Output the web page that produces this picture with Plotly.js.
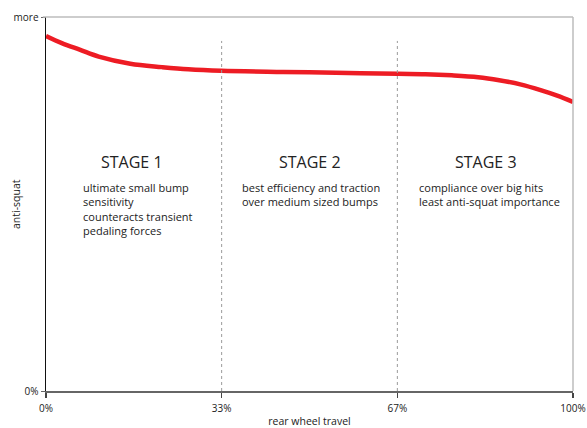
<!DOCTYPE html>
<html>
<head>
<meta charset="utf-8">
<script src="https://cdn.plot.ly/plotly-3.0.1.min.js"></script>
<style>html,body{margin:0;padding:0;background:#fff;}#chart{width:587px;height:428px;}</style>
</head>
<body>
<div id="chart"></div>
<script>
// Data
const travel = [0, 3, 6.5, 10, 16, 22, 27, 33.3, 45, 55, 66.7, 72, 77, 82, 86, 90, 94, 97, 100];
const antiSquat = [94.9, 93.0, 91.2, 89.4, 87.5, 86.6, 86.0, 85.6, 85.3, 85.1, 84.8, 84.7, 84.4, 83.9, 83.1, 82.0, 80.4, 79.0, 77.3];
const xTickVals = [0, 33.33, 66.67, 100];
const xTickText = ['0%', '33%', '67%', '100%'];
const yTickVals = [0, 100];
const yTickText = ['0%', 'more'];
const stageX = [33.33, 66.67];
const stageTitles = ['STAGE 1', 'STAGE 2', 'STAGE 3'];
const stageCenters = [16.4, 50, 83.5];
const stageTextX = [6.7, 36.9, 70.4];
const stageTexts = [
  'ultimate small bump<br>sensitivity<br>counteracts transient<br>pedaling forces',
  'best efficiency and traction<br>over medium sized bumps',
  'compliance over big hits<br>least anti-squat importance'
];

const FONT = 'Open Sans, sans-serif';
const shapes = [];
stageX.forEach(x => shapes.push({type:'line', xref:'x', yref:'y', x0:x, x1:x, y0:0, y1:93.6,
  line:{color:'#9a9a9a', width:1, dash:'3px,3px'}}));
// top and right border
shapes.push({type:'line', xref:'paper', yref:'paper', x0:-0.006, x1:1, y0:1, y1:1, line:{color:'#bdbdbd', width:1.5}});
shapes.push({type:'line', xref:'paper', yref:'paper', x0:1, x1:1, y0:0, y1:1, line:{color:'#bdbdbd', width:1.5}});

const annotations = [];
stageTitles.forEach((t,i) => annotations.push({x:stageCenters[i], y:61.2, xref:'x', yref:'y', text:t,
  showarrow:false, xanchor:'center', yanchor:'middle', font:{family:FONT, size:16, color:'#222'}}));
stageTexts.forEach((t,i) => annotations.push({x:stageTextX[i], y:57.0, xref:'x', yref:'y', text:t,
  showarrow:false, xanchor:'left', yanchor:'top', align:'left', font:{family:FONT, size:11, color:'#222'}}));
// y-axis title placed as annotation
annotations.push({x:-0.057, y:0.5, xref:'paper', yref:'paper', text:'anti-squat', textangle:-90,
  showarrow:false, xanchor:'center', yanchor:'middle', font:{family:FONT, size:10.5, color:'#222'}});

const trace = {x: travel, y: antiSquat, mode:'lines', line:{color:'#ed1c24', width:4.5, shape:'spline'}, hoverinfo:'skip'};

const layout = {
  width:587, height:428,
  margin:{l:46, r:14, t:17, b:37},
  paper_bgcolor:'#fff', plot_bgcolor:'#fff',
  showlegend:false,
  font:{family:FONT, size:10, color:'#222'},
  xaxis:{range:[0,100], tickvals:xTickVals, ticktext:xTickText, showgrid:false, zeroline:false,
    showline:true, linecolor:'#666', linewidth:2, ticks:'outside', ticklen:5, tickcolor:'#444', tickwidth:1.5,
    ticklabelstandoff:2,
    tickfont:{family:FONT, size:10, color:'#222'},
    title:{text:'rear wheel travel', font:{family:FONT, size:10.5, color:'#222'}, standoff:16}},
  yaxis:{range:[0,100], tickvals:yTickVals, ticktext:yTickText, showgrid:false, zeroline:false,
    showline:true, linecolor:'#111', linewidth:1.5, ticks:'outside', ticklen:4, tickcolor:'#666',
    tickfont:{family:FONT, size:10, color:'#222'}},
  shapes: shapes,
  annotations: annotations
};
Plotly.newPlot('chart', [trace], layout, {displayModeBar:false, staticPlot:true});
</script>
</body>
</html>
